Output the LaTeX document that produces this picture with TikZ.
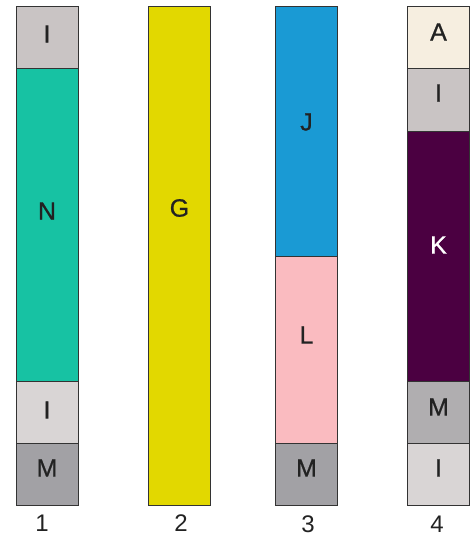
\documentclass[tikz,border=0pt]{standalone}
\usepackage{fontspec}
\setmainfont{Liberation Sans}
\newfontfamily\tagfont{Liberation Sans}[FakeBold=0.8]
\definecolor{igray}{HTML}{C9C4C4}
\definecolor{ilight}{HTML}{D9D5D5}
\definecolor{mgray}{HTML}{A2A1A5}
\definecolor{mlight}{HTML}{B0AEB0}
\definecolor{nteal}{HTML}{17C2A3}
\definecolor{gyellow}{HTML}{E2D800}
\definecolor{jblue}{HTML}{1A9AD4}
\definecolor{lpink}{HTML}{FABBC0}
\definecolor{acream}{HTML}{F6EEE0}
\definecolor{kpurple}{HTML}{4B0041}
\definecolor{ink}{HTML}{222222}
\begin{document}
\begin{tikzpicture}[x=1pt,y=-1pt,
  bar/.style={draw=black!80,line width=0.7pt,minimum width=62pt,inner sep=0pt},
  tag/.style={inner sep=0pt,text=ink,font=\tagfont\fontsize{25}{25}\selectfont},
  num/.style={inner sep=0pt,text=ink,font=\fontsize{24}{24}\selectfont}]
  \useasboundingbox (0,0) rectangle (475,537);
  % column 1
  \node[bar,fill=igray,minimum height=62pt] (c1i) at (47,37) {};
  \node[bar,fill=nteal,minimum height=313pt] (c1n) at (47,224.5) {};
  \node[bar,fill=ilight,minimum height=62pt] (c1j) at (47,412) {};
  \node[bar,fill=mgray,minimum height=62pt] (c1m) at (47,474) {};
  \node[tag] (t1i) at (47,34) {I};
  \node[tag] (t1n) at (47,211) {N};
  \node[tag] (t1j) at (47,410) {I};
  \node[tag] (t1m) at (47,468) {M};
  \node[num] (n1) at (42,523) {1};
  % column 2
  \node[bar,fill=gyellow,minimum height=499pt] (c2g) at (179.5,255.5) {};
  \node[tag] (t2g) at (179.5,208) {G};
  \node[num] (n2) at (181,523) {2};
  % column 3
  \node[bar,fill=jblue,minimum height=250pt] (c3j) at (306.5,131) {};
  \node[bar,fill=lpink,minimum height=187pt] (c3l) at (306.5,349.5) {};
  \node[bar,fill=mgray,minimum height=62pt] (c3m) at (306.5,474) {};
  \node[tag] (t3j) at (306.5,122) {J};
  \node[tag] (t3l) at (306.5,335) {L};
  \node[tag] (t3m) at (306.5,468) {M};
  \node[num] (n3) at (308,524) {3};
  % column 4
  \node[bar,fill=acream,minimum height=62pt] (c4a) at (438.5,37) {};
  \node[bar,fill=igray,minimum height=63pt] (c4i) at (438.5,99.5) {};
  \node[bar,fill=kpurple,minimum height=250pt] (c4k) at (438.5,256) {};
  \node[bar,fill=mlight,minimum height=62pt] (c4m) at (438.5,412) {};
  \node[bar,fill=ilight,minimum height=62pt] (c4j) at (438.5,474) {};
  \node[tag] (t4a) at (438.5,32) {A};
  \node[tag] (t4i) at (438.5,93) {I};
  \node[tag,text=white] (t4k) at (438.5,245) {K};
  \node[tag] (t4m) at (438.5,407) {M};
  \node[tag] (t4j) at (438.5,468) {I};
  \node[num] (n4) at (437,524) {4};
\end{tikzpicture}
\end{document}
